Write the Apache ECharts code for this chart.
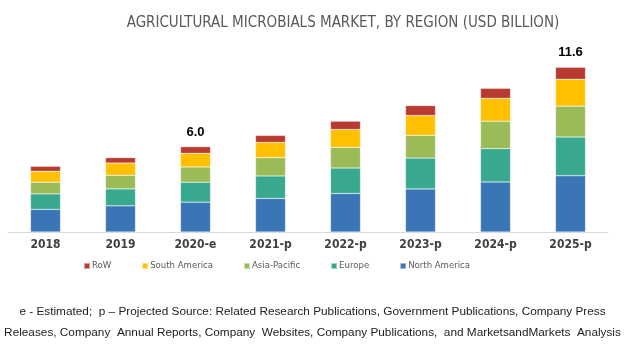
<!DOCTYPE html>
<html>
<head>
<meta charset="utf-8">
<script src="https://cdn.jsdelivr.net/npm/echarts@6/dist/echarts.min.js"></script>
<style>
  html, body { margin: 0; padding: 0; background: #fff; }
  #chart { width: 625px; height: 351px; }
</style>
</head>
<body>
<div id="chart"></div>
<script>
// values, USD billion
var years = ["2018", "2019", "2020-e", "2021-p", "2022-p", "2023-p", "2024-p", "2025-p"];
var northAmerica = [1.59, 1.84, 2.10, 2.36, 2.71, 3.03, 3.52, 3.95];
var europe = [1.09, 1.19, 1.40, 1.58, 1.79, 2.17, 2.34, 2.73];
var asiaPacific = [0.82, 0.96, 1.07, 1.29, 1.45, 1.59, 1.93, 2.17];
var southAmerica = [0.77, 0.86, 0.96, 1.07, 1.26, 1.40, 1.61, 1.89];
var row = [0.35, 0.38, 0.47, 0.49, 0.58, 0.70, 0.70, 0.84];
var totalLabels = ["", "", "6.0", "", "", "", "", "11.6"];

var narrow = "'DejaVu Sans Condensed', 'Liberation Sans', sans-serif";

var chart = echarts.init(document.getElementById("chart"));

function seg(name, data, color) {
    return {
        name: name,
        type: "bar",
        stack: "total",
        barWidth: 30,
        data: data,
        itemStyle: { color: color, borderColor: "rgba(255,255,255,0.5)", borderWidth: 0.5 }
    };
}

var series = [
    seg("North America", northAmerica, "#3a75b5"),
    seg("Europe", europe, "#38a88e"),
    seg("Asia-Pacific", asiaPacific, "#9bbb59"),
    seg("South America", southAmerica, "#ffc000"),
    seg("RoW", row, "#b93a30")
];
// total labels sit on top of the last segment
series[4].label = {
    show: true,
    position: "top",
    distance: 8,
    color: "#000",
    fontFamily: "Liberation Sans",
    fontWeight: "bold",
    fontSize: 13,
    formatter: function(p) { return totalLabels[p.dataIndex]; }
};

chart.setOption({
    animation: false,
    backgroundColor: "#fff",
    title: {
        text: "AGRICULTURAL MICROBIALS MARKET, BY REGION (USD BILLION)",
        left: 338,
        textAlign: "center",
        top: 11,
        textStyle: {
            color: "#595959",
            fontFamily: narrow,
            fontWeight: "normal",
            fontSize: 15
        }
    },
    legend: {
        data: ["RoW", "South America", "Asia-Pacific", "Europe", "North America"],
        left: 78,
        top: 256,
        itemWidth: 6,
        itemHeight: 6,
        itemGap: 30,
        icon: "rect",
        textStyle: { color: "#595959", fontSize: 9.5, fontFamily: narrow, padding: [0, 0, 0, -3] }
    },
    grid: { left: 8, right: 17, top: 40, bottom: 119 },
    xAxis: {
        type: "category",
        data: years,
        axisLine: { lineStyle: { color: "#d9d9d9", width: 1 } },
        axisTick: { show: false },
        axisLabel: {
            color: "#404040",
            fontFamily: narrow,
            fontWeight: "bold",
            fontSize: 12,
            margin: 7
        }
    },
    yAxis: {
        type: "value",
        min: 0,
        max: 13.5,
        show: false,
        splitLine: { show: false }
    },
    graphic: [
        {
            type: "text",
            left: "center",
            top: 306,
            style: {
                text: "e - Estimated;  p \u2013 Projected Source: Related Research Publications, Government Publications, Company Press",
                fill: "#222",
                font: "11.8px 'Liberation Sans'"
            }
        },
        {
            type: "text",
            left: "center",
            top: 327,
            style: {
                text: "Releases, Company  Annual Reports, Company  Websites, Company Publications,  and MarketsandMarkets  Analysis",
                fill: "#222",
                font: "11.8px 'Liberation Sans'"
            }
        }
    ],
    series: series
});
</script>
</body>
</html>
